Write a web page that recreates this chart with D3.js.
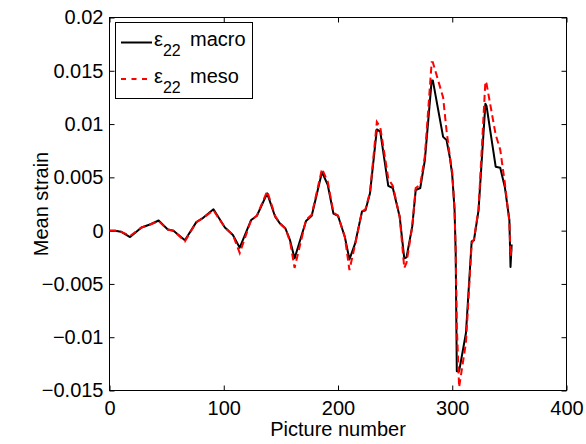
<!DOCTYPE html>
<html>
<head>
<meta charset="utf-8">
<script src="https://cdn.jsdelivr.net/npm/d3@7"></script>
<style>
  html, body { margin: 0; padding: 0; background: #fff; }
  svg { display: block; font-family: "Liberation Sans", Arial, Helvetica, sans-serif; }
</style>
</head>
<body>
<svg id="chart" width="586" height="444"></svg>
<script>
// ---- data ----
const picture = [0, 5, 10, 18, 28, 36, 43, 51, 56, 66, 76, 82, 91, 101, 108, 114, 124, 129, 138, 145, 149, 154, 158, 162, 172, 177, 186, 191, 196, 200, 206, 210, 215, 221, 224, 228, 234, 237, 244, 248, 254, 258, 260, 265, 268, 272, 276, 282, 283, 292, 295, 298, 300, 302, 303, 304, 306, 312, 317, 319, 323, 329, 330, 338, 342, 346, 350, 351, 352];
const macro = [0, 0, -0.0001, -0.0006, 0.0003, 0.0006, 0.00095, 0.0001, 0, -0.0009, 0.0008, 0.0012, 0.002, 0.0003, -0.0004, -0.0016, 0.001, 0.0014, 0.0035, 0.0013, 0.0007, 0.0002, -0.0009, -0.0026, 0.0009, 0.0014, 0.0055, 0.0043, 0.0016, 0.0014, -0.0006, -0.0027, -0.0012, 0.0018, 0.0019, 0.0035, 0.0095, 0.0093, 0.0042, 0.004, 0.0013, -0.0026, -0.0025, 0.0004, 0.0038, 0.004, 0.0066, 0.0141, 0.0141, 0.0088, 0.0085, 0.0068, 0.0052, 0.002, -0.002, -0.0132, -0.0132, -0.0096, -0.001, -0.0009, 0.0019, 0.0119, 0.0117, 0.006, 0.0059, 0.0041, 0.001, -0.0034, -0.0013];
const meso = [0, 0, -0.0001, -0.0005, 0.0003, 0.0006, 0.0009, 0.0001, 0, -0.001, 0.0008, 0.0012, 0.0019, 0.0003, -0.0004, -0.0021, 0.001, 0.0014, 0.0037, 0.0014, 0.0007, 0.0002, -0.001, -0.0035, 0.001, 0.0015, 0.0058, 0.0046, 0.0017, 0.0014, -0.0006, -0.0037, -0.0013, 0.0018, 0.002, 0.0036, 0.0102, 0.0097, 0.0049, 0.0042, 0.0013, -0.0035, -0.003, 0.0004, 0.004, 0.0043, 0.007, 0.0158, 0.0158, 0.0125, 0.0094, 0.0069, 0.0055, 0.002, -0.002, -0.009, -0.0147, -0.0105, -0.0012, -0.0008, 0.002, 0.014, 0.0138, 0.009, 0.0076, 0.0045, 0.0008, -0.0024, -0.0015];
const xTicks = [0, 100, 200, 300, 400];
const xTickLabels = ["0", "100", "200", "300", "400"];
const yTicks = [-0.015, -0.01, -0.005, 0, 0.005, 0.01, 0.015, 0.02];
const yTickLabels = ["\u22120.015", "\u22120.01", "\u22120.005", "0", "0.005", "0.01", "0.015", "0.02"];
const seriesNames = ["macro", "meso"];

// ---- layout ----
const L = 109.5, R = 566.5, T = 17.5, B = 390.5;
const svg = d3.select("#chart");
const x = d3.scaleLinear().domain([0, 400]).range([L, R]);
const y = d3.scaleLinear().domain([-0.015, 0.02]).range([B, T]);
const tick = 5;

// axes
const gx = svg.append("g").attr("transform", `translate(0,${B})`)
  .call(d3.axisBottom(x).tickValues(xTicks).tickFormat((d, i) => xTickLabels[i]).tickSizeInner(-tick).tickSizeOuter(0).tickPadding(10));
const gxt = svg.append("g").attr("transform", `translate(0,${T})`)
  .call(d3.axisTop(x).tickValues(xTicks).tickFormat("").tickSizeInner(-tick).tickSizeOuter(0));
const gy = svg.append("g").attr("transform", `translate(${L},0)`)
  .call(d3.axisLeft(y).tickValues(yTicks).tickFormat((d, i) => yTickLabels[i]).tickSizeInner(-tick).tickSizeOuter(0).tickPadding(6));
const gyr = svg.append("g").attr("transform", `translate(${R},0)`)
  .call(d3.axisRight(y).tickValues(yTicks).tickFormat("").tickSizeInner(-tick).tickSizeOuter(0));
[gx, gxt, gy, gyr].forEach(g => {
  g.select(".domain").remove();
  g.selectAll("line").attr("stroke", "#000").attr("stroke-width", 1);
  g.selectAll("text").attr("fill", "#000").style("font-size", "20px").style("font-family", '"Liberation Sans", Arial, sans-serif');
});
gx.selectAll("text").attr("dy", "0.71em");

svg.append("rect").attr("x", L).attr("y", T).attr("width", R - L).attr("height", B - T)
  .attr("fill", "none").attr("stroke", "#000").attr("stroke-width", 1);

// lines
const pts = vals => picture.map((p, i) => [p, vals[i]]);
const line = d3.line().x(d => x(d[0])).y(d => y(d[1]));
svg.append("path").attr("d", line(pts(macro))).attr("fill", "none").attr("stroke", "#000").attr("stroke-width", 2).attr("stroke-linejoin", "round");
svg.append("path").attr("d", line(pts(meso))).attr("fill", "none").attr("stroke", "#ff0000").attr("stroke-width", 2).attr("stroke-dasharray", "7,4");

// axis labels
svg.append("text").attr("x", (L + R) / 2).attr("y", 436).attr("text-anchor", "middle").style("font-size", "20px").text("Picture number");
svg.append("text").attr("transform", `translate(48,${(T + B) / 2}) rotate(-90)`).attr("text-anchor", "middle").style("font-size", "20px").text("Mean strain");

// legend
const lg = svg.append("g");
lg.append("rect").attr("x", 115.5).attr("y", 22.5).attr("width", 137).attr("height", 76).attr("fill", "#fff").attr("stroke", "#000").attr("stroke-width", 1);
const entries = [
  { name: seriesNames[0], ly: 42.5, base: 46, color: "#000", dash: null },
  { name: seriesNames[1], ly: 79, base: 83, color: "#ff0000", dash: "5,5.5" }
];
entries.forEach(e => {
  const ln = lg.append("line").attr("x1", 121).attr("x2", 152).attr("y1", e.ly).attr("y2", e.ly).attr("stroke", e.color).attr("stroke-width", 2);
  if (e.dash) ln.attr("stroke-dasharray", e.dash);
  const t = lg.append("text").attr("x", 154).attr("y", e.base).style("font-size", "20px");
  t.append("tspan").text("\u03b5");
  t.append("tspan").attr("dy", 10).style("font-size", "16px").text("22");
  t.append("tspan").attr("x", 190).attr("dy", -10).text(e.name);
});
</script>
</body>
</html>
